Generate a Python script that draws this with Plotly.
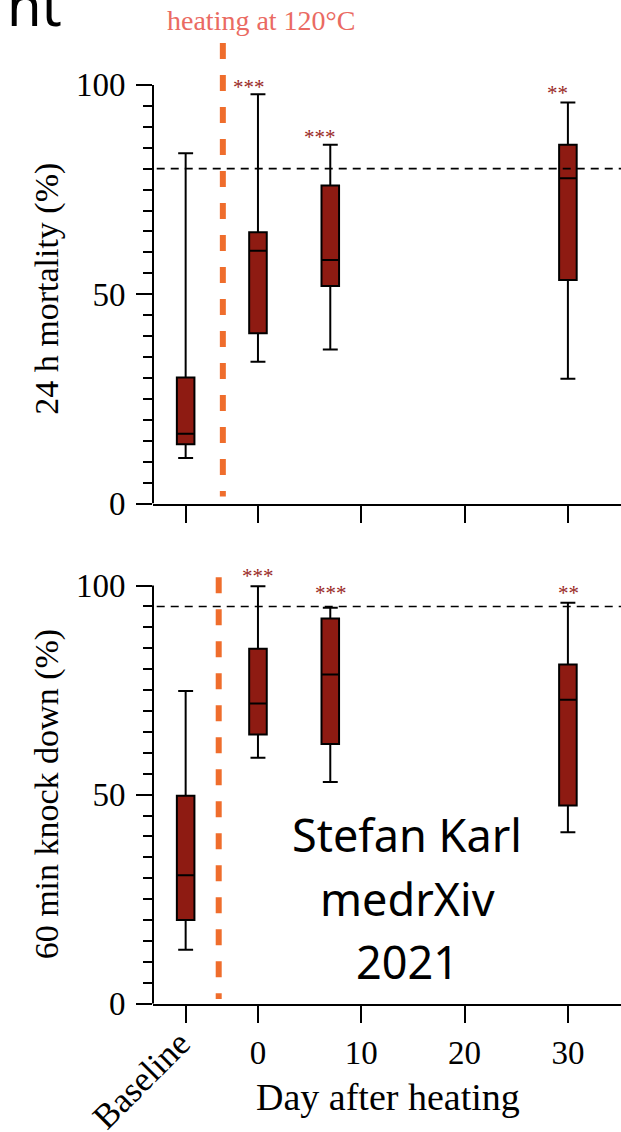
import plotly.graph_objects as go

# Positions on the day axis (baseline drawn one week before heating)
groups = ["Baseline", "Day 0", "Day 7", "Day 30"]
x_pos = [-7, 0, 7, 30]

# 24 h mortality (%) box statistics
mort_low = [10.9, 33.9, 36.8, 29.8]
mort_q1 = [14.2, 40.7, 52.0, 53.4]
mort_med = [16.7, 60.4, 58.2, 77.7]
mort_q3 = [30.1, 64.8, 76.0, 85.7]
mort_high = [83.7, 97.8, 85.7, 95.8]

# 60 min knock down (%) box statistics
kd_low = [12.9, 58.8, 53.0, 41.0]
kd_q1 = [20.0, 64.4, 62.1, 47.4]
kd_med = [30.7, 71.8, 78.7, 72.7]
kd_q3 = [49.7, 84.9, 92.1, 81.1]
kd_high = [74.8, 99.8, 94.7, 95.9]

# Reference levels
mort_ref = 80
kd_ref = 95

# Significance markers
mort_sig = ["***", "***", "**"]
mort_sig_x = [-0.9, 6.0, 29.0]
mort_sig_y = [99.5, 87.5, 98.0]
kd_sig = ["***", "***", "**"]
kd_sig_x = [0.0, 7.1, 30.1]
kd_sig_y = [102.2, 98.1, 98.1]

# Tick labels
x_ticks = [-7, 0, 10, 20, 30]
x_ticktext = ["", "0", "10", "20", "30"]
y_ticks = [0, 50, 100]
y_minor = list(range(0, 101, 5))

SERIF = "Liberation Serif"
SANS = "Noto Sans"
BOX_FILL = "#8e1b12"
SIG_COLOR = "#9a2a26"
HEAT_COLOR = "#ef6d2c"

W, H = 621, 1132
VS = 0.984  # vertical scale of the rendered page


def px(x):
    return x / W


def py(y):
    return 1 - (y / VS) / H


fig = go.Figure()


def add_box(q1, med, q3, lo, hi, xa, ya):
    fig.add_trace(go.Box(
        x=x_pos, q1=q1, median=med, q3=q3, lowerfence=lo, upperfence=hi,
        width=1.7, whiskerwidth=0.85, boxpoints=False,
        fillcolor=BOX_FILL, line=dict(color="black", width=2),
        xaxis=xa, yaxis=ya, showlegend=False, name="",
    ))


add_box(mort_q1, mort_med, mort_q3, mort_low, mort_high, "x", "y")
add_box(kd_q1, kd_med, kd_q3, kd_low, kd_high, "x2", "y2")

x_range = [-10.16, 35.14]
y_range = [0, 112]
x_dom = [px(153), 1.0]


def y_domain(p0, p100):
    per = (p0 - p100) / 100
    return [py(p0), py(p0 - per * y_range[1])]


top_dom = y_domain(504, 85)
bot_dom = y_domain(1004.5, 586)

xcommon = dict(
    range=x_range, domain=x_dom, tickvals=x_ticks, ticktext=x_ticktext,
    ticks="outside", ticklen=17, tickwidth=2, tickcolor="black",
    showline=True, linewidth=2, linecolor="black", showgrid=False,
    zeroline=False, ticklabelstandoff=2,
    tickfont=dict(family=SERIF, size=33, color="black"),
)
ycommon = dict(
    range=y_range, tickvals=y_ticks, ticks="outside", ticklen=16,
    tickwidth=2, tickcolor="black", showline=False, showgrid=False,
    zeroline=False, ticklabelstandoff=4,
    tickfont=dict(family=SERIF, size=33, color="black"),
    minor=dict(tickvals=y_minor, ticks="outside", ticklen=9,
               tickwidth=2, tickcolor="black", showgrid=False),
)

fig.update_layout(
    width=W, height=H, margin=dict(l=0, r=0, t=0, b=0),
    paper_bgcolor="white", plot_bgcolor="white",
    xaxis=dict(xcommon, anchor="y", showticklabels=False),
    yaxis=dict(ycommon, domain=top_dom, anchor="x"),
    xaxis2=dict(xcommon, anchor="y2"),
    yaxis2=dict(ycommon, domain=bot_dom, anchor="x2"),
)

shapes = []
for xa, ya, ref, heat_x, heat_top, heat_bot in [
    ("x", "y", mort_ref, -3.4, 110, 1.7),
    ("x2", "y2", kd_ref, -3.8, 102, 1.1),
]:
    # vertical axis line covering 0-100 only
    shapes.append(dict(type="line", xref="paper", yref=ya,
                       x0=px(153), x1=px(153), y0=0, y1=100,
                       line=dict(color="black", width=2)))
    # reference level
    shapes.append(dict(type="line", xref=xa, yref=ya,
                       x0=-9.8, x1=x_range[1], y0=ref, y1=ref,
                       line=dict(color="black", width=1.6, dash="8px,6px")))
    # heating event
    shapes.append(dict(type="line", xref=xa, yref=ya,
                       x0=heat_x, x1=heat_x, y0=heat_top, y1=heat_bot,
                       line=dict(color=HEAT_COLOR, width=6, dash="16px,16px")))
fig.update_layout(shapes=shapes)

ann = []
for txt, sx, sy in zip(mort_sig, mort_sig_x, mort_sig_y):
    ann.append(dict(x=sx, y=sy, xref="x", yref="y", text=txt, showarrow=False,
                    xanchor="center", yanchor="middle",
                    font=dict(family=SERIF, size=21, color=SIG_COLOR)))
for txt, sx, sy in zip(kd_sig, kd_sig_x, kd_sig_y):
    ann.append(dict(x=sx, y=sy, xref="x2", yref="y2", text=txt, showarrow=False,
                    xanchor="center", yanchor="middle",
                    font=dict(family=SERIF, size=21, color=SIG_COLOR)))


def label(text, x, y, size, family=SERIF, color="black", angle=0, **kw):
    d = dict(x=px(x), y=py(y), xref="paper", yref="paper", text=text,
             textangle=angle, showarrow=False, xanchor="center",
             yanchor="middle", font=dict(family=family, size=size, color=color))
    d.update(kw)
    return d


ann += [
    label("heating at 120°C", 261, 21, 28, color="#ea6a62"),
    label("24 h mortality (%)", 47, 289, 34, angle=-90),
    label("60 min knock down (%)", 47, 795, 34, angle=-90),
    label("Day after heating", 388, 1098, 38),
    label(groups[0], 141, 1081, 35, angle=-45),
    label("Stefan Karl", 407, 835, 45, family=SANS),
    label("medrXiv", 407, 899, 45, family=SANS),
    label("2021", 407, 962, 45, family=SANS),
    label("nt", 5, 44, 56, family=SANS, xanchor="left", yanchor="bottom"),
]
fig.update_layout(annotations=ann)

fig.write_html("out.html")
